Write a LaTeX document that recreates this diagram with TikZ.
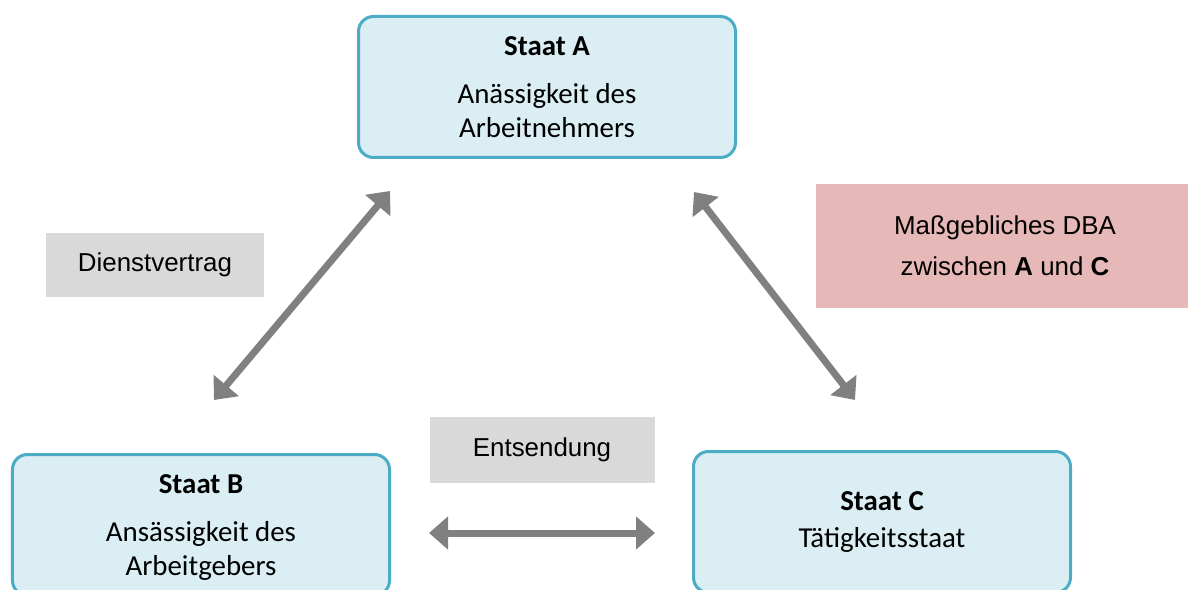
\documentclass[tikz,border=0pt]{standalone}
\usepackage{fontspec}
\setmainfont{Liberation Sans}
\newfontfamily\boxfont{Carlito}
\usetikzlibrary{arrows.meta}
\definecolor{staatline}{HTML}{4BACC6}
\definecolor{staatfill}{HTML}{DAEEF3}
\definecolor{labelgray}{HTML}{D9D9D9}
\definecolor{labelrose}{HTML}{E6B8B7}
\definecolor{arrowgray}{HTML}{808080}
\begin{document}
\begin{tikzpicture}[x=1bp,y=-1bp,
	staat/.style={draw=staatline,fill=staatfill,line width=3bp,rounded corners=15bp,
		minimum width=377bp,minimum height=141bp,align=center,
		font=\boxfont\fontsize{29}{34}\selectfont},
	grey label/.style={fill=labelgray,inner sep=0pt,align=center,
		font=\fontsize{26}{41}\selectfont},
	rose label/.style={fill=labelrose,inner sep=0pt,align=center,
		font=\fontsize{26}{41}\selectfont},
	relation/.style={draw=arrowgray,line width=7bp,
		{Triangle[width=32bp,length=19bp]}-{Triangle[width=32bp,length=19bp]}}]
	\clip (0,0) rectangle (1188,590);
	% States
	\node [staat] (A) at (547,87) {\textbf{Staat A}\\[14bp]Anässigkeit des\\Arbeitnehmers};
	\node [staat,text depth=0pt] (B) at (201,525) {\textbf{Staat B}\\[14bp]Ansässigkeit des\\Arbeitgebers};
	\node [staat] (C) at (882,522) {\textbf{Staat C}\\[3bp]Tätigkeitsstaat};
	% Labels
	\node [grey label,minimum width=218bp,minimum height=64bp] (dienst) at (155,265) {Dienstvertrag};
	\node [grey label,minimum width=225bp,minimum height=66bp] (entsend) at (542,450) {Entsendung};
	\node [rose label,minimum width=378bp,minimum height=124bp] (dba) at (1005,246) {Maßgebliches DBA\\zwischen \textbf{A} und \textbf{C}};
	% Relations
	\coordinate (AB1) at (390,191);
	\coordinate (AB2) at (214,400);
	\coordinate (AC1) at (694,192);
	\coordinate (AC2) at (855,400);
	\coordinate (BC1) at (429,533);
	\coordinate (BC2) at (655,533);
	\draw [relation] (AB1) -- (AB2);
	\draw [relation] (AC1) -- (AC2);
	\draw [relation] (BC1) -- (BC2);
\end{tikzpicture}
\end{document}
